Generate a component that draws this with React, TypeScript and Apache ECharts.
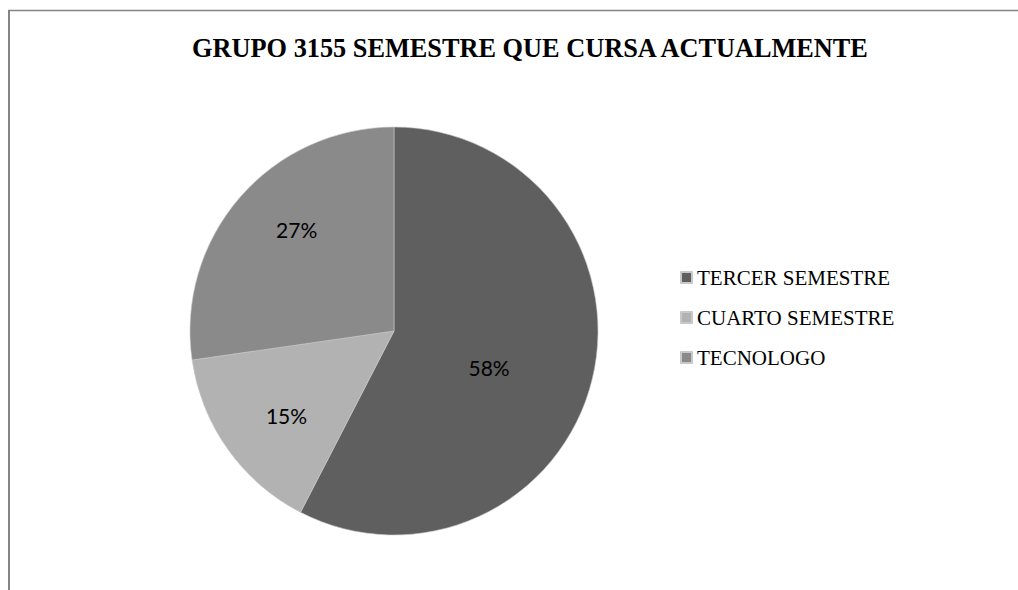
import React, { useEffect, useRef } from "react";
import * as echarts from "echarts";

const titleText = "GRUPO 3155 SEMESTRE QUE CURSA ACTUALMENTE";
const categories = ["TERCER SEMESTRE", "CUARTO SEMESTRE", "TECNOLOGO"];
const values = [19, 5, 9];
const colors = ["#5f5f5f", "#b2b2b2", "#8a8a8a"];
const labelShift = [
  [-7, 12],
  [-22, 24],
  [-18, -33],
];

export default function App() {
  const ref = useRef<HTMLDivElement>(null);
  useEffect(() => {
    if (!ref.current) return;
    const chart = echarts.init(ref.current, null, { renderer: "svg" });
    const total = values.reduce((a, b) => a + b, 0);
    chart.setOption({
      animation: false,
      backgroundColor: "#ffffff",
      title: {
        text: titleText,
        left: 525,
        top: 30,
        textAlign: "center",
        textStyle: {
          fontFamily: "Liberation Serif",
          fontWeight: "bold",
          fontSize: 26.3,
          color: "#000",
        },
      },
      legend: {
        orient: "vertical",
        left: 680,
        top: 267,
        padding: 0,
        itemWidth: 11,
        itemHeight: 11,
        itemGap: 19,
        icon: "rect",
        data: categories,
        textStyle: {
          fontFamily: "Liberation Serif",
          fontSize: 21,
          color: "#000",
        },
      },
      graphic: [
        {
          type: "line",
          shape: { x1: 9, y1: 10, x2: 9, y2: 600 },
          style: { stroke: "#858585", lineWidth: 2 },
        },
        {
          type: "line",
          shape: { x1: 8, y1: 10.5, x2: 1030, y2: 10.5 },
          style: { stroke: "#858585", lineWidth: 1.5 },
        },
      ],
      series: [
        {
          type: "pie",
          center: [394, 331],
          radius: 204,
          startAngle: 90,
          clockwise: true,
          avoidLabelOverlap: false,
          itemStyle: { borderColor: "#c8c8c8", borderWidth: 0.6 },
          label: {
            show: true,
            position: "inside",
            fontFamily: "Lato",
            fontSize: 21,
            color: "#000",
            formatter: (p: any) => Math.round((p.value / total) * 100) + "%",
          },
          labelLine: { show: false },
          labelLayout: (p: any) => ({
            dx: labelShift[p.dataIndex][0],
            dy: labelShift[p.dataIndex][1],
          }),
          emphasis: { disabled: true },
          data: categories.map((name, i) => ({
            name,
            value: values[i],
            itemStyle: { color: colors[i] },
          })),
        },
      ],
    });
    return () => chart.dispose();
  }, []);
  return (
    <div
      ref={ref}
      style={{ position: "absolute", left: 0, top: 0, width: 1018, height: 590 }}
    />
  );
}
